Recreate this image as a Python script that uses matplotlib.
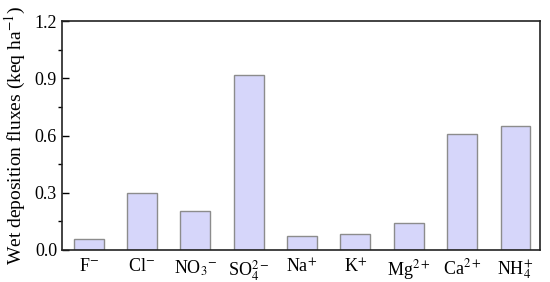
import matplotlib
matplotlib.use("Agg")
import matplotlib.pyplot as plt
from matplotlib.ticker import MultipleLocator

categories = ["F$^{-}$", "Cl$^{-}$", "NO$_3$$^{-}$", "SO$_4^{2-}$", "Na$^{+}$", "K$^{+}$",
              "Mg$^{2+}$", "Ca$^{2+}$", "NH$_4^{+}$"]
values = [0.056, 0.297, 0.206, 0.919, 0.073, 0.082, 0.140, 0.608, 0.648]

plt.rcParams['font.family'] = ['Liberation Serif', 'DejaVu Serif']
plt.rcParams['mathtext.fontset'] = 'stix'

fig = plt.figure(figsize=(5.5, 2.82), dpi=100)
ax = fig.add_axes([0.1127, 0.1135, 0.8691, 0.812])
x = list(range(len(categories)))
ax.bar(x, values, width=0.56, color='#d6d6fa', edgecolor='#8c8c8c', linewidth=1.0, zorder=2)
ax.set_xlim(-0.5, 8.46)
ax.set_ylim(0, 1.2)
ax.yaxis.set_minor_locator(MultipleLocator(0.15))
ax.set_yticks([0.0, 0.3, 0.6, 0.9, 1.2])
ax.set_yticklabels(["0.0", "0.3", "0.6", "0.9", "1.2"])
ax.set_xticks(x)
ax.set_xticklabels(categories)
ax.tick_params(axis='both', direction='in', labelsize=13, color='black')
ax.tick_params(axis='x', length=5, width=1.2, pad=6)
ax.tick_params(axis='y', which='major', length=5, width=1.0)
ax.tick_params(axis='y', which='minor', length=3, width=1.0)
for tl in ax.get_xticklines():
    tl.set_zorder(5)
for s in ax.spines.values():
    s.set_linewidth(1.2)
    s.set_color('#222222')
ax.set_ylabel("Wet deposition fluxes (keq ha$^{-1}$)", fontsize=14, labelpad=5)
fig.savefig("out.png", dpi=100)
